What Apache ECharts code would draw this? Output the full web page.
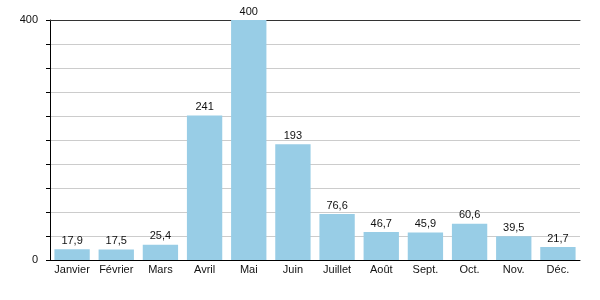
<!DOCTYPE html>
<html><head><meta charset="utf-8">
<script src="https://cdn.jsdelivr.net/npm/echarts@6/dist/echarts.min.js"></script>
<style>html,body{margin:0;padding:0;background:#fff}#c{width:600px;height:300px}</style>
</head><body><div id="c"></div>
<script>
const categories = ['Janvier','Février','Mars','Avril','Mai','Juin','Juillet','Août','Sept.','Oct.','Nov.','Déc.'];
const values = [17.9, 17.5, 25.4, 241, 400, 193, 76.6, 46.7, 45.9, 60.6, 39.5, 21.7];
const yTickLabels = [0, 400];

const chart = echarts.init(document.getElementById('c'), null, {renderer:'canvas'});
const fmt = v => String(v).replace('.', ',');
chart.setOption({
  animation: false,
  textStyle: {fontFamily: 'Liberation Sans, Arial, sans-serif'},
  grid: {left: 50, right: 20, top: 20, bottom: 40},
  xAxis: [{
    type: 'category', data: categories,
    axisLine: {lineStyle: {color: '#000', width: 1}},
    axisTick: {show: false},
    axisLabel: {color: '#111', fontSize: 11, margin: 4, interval: 0}
  }, {
    type: 'category', data: categories, position: 'top',
    axisLine: {lineStyle: {color: '#333', width: 1}},
    axisTick: {show: false}, axisLabel: {show: false}
  }],
  yAxis: {
    type: 'value', min: 0, max: 400, interval: 40,
    axisLine: {show: true, lineStyle: {color: '#000'}},
    axisTick: {show: true, length: 4, lineStyle: {color: '#000'}},
    splitLine: {lineStyle: {color: '#cccccc'}},
    axisLabel: {color: '#111', fontSize: 11, margin: 12,
      formatter: v => yTickLabels.includes(v) ? String(v) : ''}
  },
  series: [{
    type: 'bar', data: values, barCategoryGap: '20%',
    itemStyle: {color: '#98cde6'},
    label: {show: true, position: 'top', distance: 3, color: '#111', fontSize: 11,
      formatter: p => fmt(p.value)}
  }]
});
</script></body></html>
